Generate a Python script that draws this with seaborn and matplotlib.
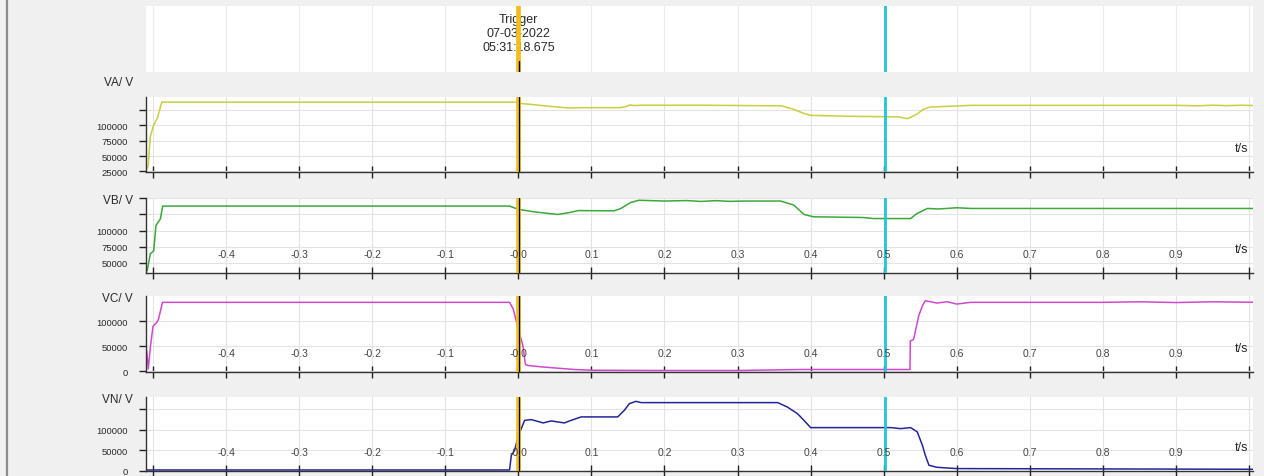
import matplotlib
matplotlib.use("Agg")
import matplotlib.pyplot as plt
from matplotlib.lines import Line2D
import seaborn as sns

# values (time in s, voltage in V)
t_va = [-0.508, -0.5065, -0.5037, -0.499, -0.494, -0.488, -0.01, 0.0, 0.002, 0.02,
        0.045, 0.068, 0.09, 0.14, 0.148, 0.153, 0.158, 0.17, 0.25, 0.36, 0.375,
        0.39, 0.40, 0.45, 0.52, 0.533, 0.545, 0.554, 0.563, 0.6, 0.62, 0.9,
        0.93, 0.95, 0.97, 0.99, 1.005]
va = [30000, 35000, 82000, 101000, 112000, 138000, 138000, 138000, 136000, 134000,
      131000, 128500, 129000, 129000, 131000, 133500, 132500, 133000, 133000, 132000, 127000,
      120000, 116500, 115000, 114000, 111000, 118000, 126000, 130000, 131700, 132800, 132800,
      132000, 133000, 132300, 133000, 132500]

t_vb = [-0.508, -0.507, -0.5037, -0.499, -0.496, -0.49, -0.4867, -0.012, -0.005, 0.0,
        0.022, 0.054, 0.07, 0.082, 0.131, 0.14, 0.154, 0.165, 0.2, 0.23, 0.25, 0.27,
        0.29, 0.31, 0.359, 0.377, 0.391, 0.404, 0.472, 0.486, 0.537, 0.545, 0.552,
        0.56, 0.575, 0.6, 0.62, 1.005]
vb = [38000, 44000, 64000, 69000, 108000, 118000, 138000, 138000, 135000, 133000,
      129000, 125000, 128000, 131000, 130700, 134000, 143700, 147000, 145800, 146500, 145200, 146400,
      145300, 145800, 145800, 139500, 125000, 121400, 120300, 118700, 118700, 126000, 130000,
      134300, 133500, 135400, 134300, 134300]

t_vc = [-0.5085, -0.5065, -0.5035, -0.5, -0.495, -0.4925, -0.487, -0.012, -0.007, 0.0,
        0.0064, 0.0096, 0.013, 0.031, 0.059, 0.077, 0.1, 0.2, 0.3, 0.387, 0.536,
        0.5365, 0.541, 0.548, 0.553, 0.557, 0.573, 0.587, 0.6, 0.619, 0.8, 0.85,
        0.9, 0.95, 1.005]
vc = [40000, 5000, 50000, 90000, 97000, 104000, 137400, 137400, 124000, 84000,
      50600, 14000, 12000, 9300, 6000, 4000, 2500, 2000, 2000, 4000, 4000,
      60600, 64000, 110600, 130600, 140600, 136000, 138600, 134000, 137400, 137400, 138500,
      137000, 138500, 137500]

t_vn = [-0.508, -0.012, -0.0096, -0.005, 0.0, 0.004, 0.0086, 0.018, 0.034, 0.045,
        0.063, 0.0724, 0.086, 0.136, 0.145, 0.152, 0.161, 0.168, 0.355, 0.368, 0.382,
        0.393, 0.4, 0.51, 0.523, 0.537, 0.546, 0.553, 0.557, 0.562, 0.573, 0.6, 1.005]
vn = [1500, 1500, 37300, 49500, 86100, 102400, 122700, 124400, 116300, 121200,
      116300, 122700, 131000, 131000, 147000, 163400, 169000, 165900, 165900, 155300, 139000,
      118700, 104900, 104900, 102400, 104900, 94400, 61700, 37300, 13000, 8000, 4900, 3200]

x_ticks = [-0.5, -0.4, -0.3, -0.2, -0.1, 0.0, 0.1, 0.2, 0.3, 0.4, 0.5, 0.6, 0.7, 0.8, 0.9, 1.0]
x_tick_labels = ['', '-0.4', '-0.3', '-0.2', '-0.1', '-0.0', '0.1', '0.2', '0.3', '0.4',
                 '0.5', '0.6', '0.7', '0.8', '0.9', '']

va_ticks = [25000, 50000, 75000, 100000, 125000]
va_tick_labels = ['25000', '50000', '75000', '100000', '']
vb_ticks = [50000, 75000, 100000, 125000, 150000]
vb_tick_labels = ['50000', '75000', '100000', '', '']
vc_ticks = [0, 50000, 100000]
vc_tick_labels = ['0', '50000', '100000']
vn_ticks = [0, 50000, 100000, 150000]
vn_tick_labels = ['0', '50000', '100000', '']

trigger_t = 0.0
cursor_t = 0.5015
trigger_text = "Trigger\n07-03-2022\n05:31:18.675"

W, H = 1264, 477
XLIM = (-0.5096, 1.0055)
L = 146 / W
AW = 1107 / W

sns.set_style("white")
plt.rcParams['font.family'] = ['Liberation Sans', 'DejaVu Sans']

fig = plt.figure(figsize=(W / 100, H / 100), dpi=100, facecolor='#f0f0f0')
fig.add_artist(Line2D([7 / W, 7 / W], [0, 1], transform=fig.transFigure, color='#8c8c8c', lw=1.6))

GRID = '#e3e3e3'
YEL = '#f2bd1e'
CYAN = '#1fc6d6'
TXT = '#2a2a2a'

# top trigger strip
ax0 = fig.add_axes([L, 1 - 73 / H, AW, 66 / H], facecolor='white')
ax0.set_xlim(XLIM)
ax0.set_ylim(0, 1)
ax0.set_xticks(x_ticks)
ax0.set_yticks([])
ax0.tick_params(length=0, labelbottom=False)
ax0.grid(axis='x', color='#ebebeb', lw=0.8)
for s in ax0.spines.values():
    s.set_visible(False)
ax0.text(trigger_t, 0.59, trigger_text, ha='center', va='center', fontsize=9,
         color=TXT, linespacing=1.2, zorder=1)
ax0.axvline(trigger_t, color=YEL, lw=3.4, zorder=3)
ax0.axvline(trigger_t + 0.0015, ymin=0, ymax=0.17, color='black', lw=1, zorder=4)
ax0.axvline(cursor_t, color=CYAN, lw=2, zorder=3)

panels = [
    ("VA/ V", t_va, va, '#c9cf3f', (24000, 146400), va_ticks, va_tick_labels, (98, 173), False),
    ("VB/ V", t_vb, vb, '#3aa83a', (34400, 150500), vb_ticks, vb_tick_labels, (199, 274), True),
    ("VC/ V", t_vc, vc, '#d048d0', (-1000, 150000), vc_ticks, vc_tick_labels, (297, 373), True),
    ("VN/ V", t_vn, vn, '#25259a', (-1000, 179600), vn_ticks, vn_tick_labels, (398, 472), True),
]

for name, t, v, col, ylim, yt, ytl, (top, bot), show_x in panels:
    ax = fig.add_axes([L, 1 - bot / H, AW, (bot - top) / H], facecolor='white')
    sns.lineplot(x=t, y=v, ax=ax, color=col, lw=1.1, zorder=2)
    ax.set_xlim(XLIM)
    ax.set_ylim(ylim)
    ax.set_xticks(x_ticks)
    ax.set_yticks(yt)
    ax.set_yticklabels(ytl)
    ax.set_xlabel('')
    ax.set_ylabel('')
    ax.tick_params(axis='x', direction='inout', length=8, width=1, colors='#222222',
                   labelbottom=False, bottom=True)
    ax.tick_params(axis='y', direction='out', length=5, width=1, pad=8, labelsize=6.8,
                   colors='#222222', labelcolor=TXT, left=True)
    ax.grid(True, color=GRID, lw=0.8)
    for s in ['top', 'right']:
        ax.spines[s].set_visible(False)
    for s in ['left', 'bottom']:
        ax.spines[s].set_color('#333333')
        ax.spines[s].set_linewidth(1)
    ax.axvline(trigger_t, color=YEL, lw=3.4, zorder=3)
    ax.axvline(trigger_t + 0.0015, color='black', lw=0.9, zorder=3.1)
    ax.axvline(cursor_t, color=CYAN, lw=2, zorder=3)
    if show_x:
        for xt, lbl in zip(x_ticks, x_tick_labels):
            if lbl:
                ax.annotate(lbl, xy=(xt, 0), xycoords=('data', 'axes fraction'),
                            xytext=(0, 13.5), textcoords='offset points',
                            ha='center', va='center', fontsize=7.5, color='#444444', zorder=5)
    ax.annotate('t/s', xy=(1, 0), xycoords='axes fraction', xytext=(-8, 17.5),
                textcoords='offset points', ha='center', va='center', fontsize=9,
                color=TXT)
    label_y = top - 15 if name == "VA/ V" else top + 2
    fig.text(133 / W, 1 - label_y / H, name, ha='right', va='center', fontsize=8.5, color=TXT)

fig.savefig('out.png', dpi=100, facecolor=fig.get_facecolor())
